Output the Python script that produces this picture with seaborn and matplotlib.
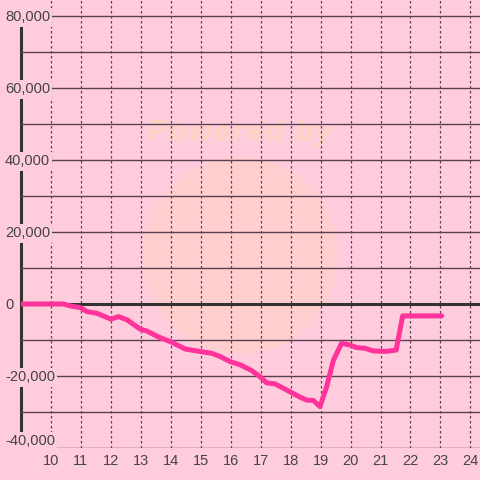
import matplotlib
matplotlib.use("Agg")
import matplotlib.pyplot as plt
import seaborn as sns
import pandas as pd
from matplotlib.patches import Circle

# data
hours = [9.0, 10.42, 10.65, 10.98, 11.2, 11.54, 12.0, 12.25, 12.54, 12.98, 13.2,
         13.6, 14.0, 14.48, 14.98, 15.37, 15.65, 15.98, 16.32, 16.7, 16.98, 17.2,
         17.48, 17.87, 18.32, 18.54, 18.76, 18.98, 19.2, 19.43, 19.7, 19.98, 20.2,
         20.48, 20.76, 21.2, 21.52, 21.74, 23.04]
balance = [0, 0, -550, -1000, -2100, -2600, -4200, -3500, -4400, -7000, -7500,
           -9200, -10500, -12500, -13200, -13700, -14600, -16000, -16900, -18500,
           -20200, -21900, -22200, -23900, -25900, -26700, -26800, -28500, -23000,
           -15600, -10900, -11400, -12100, -12300, -13050, -13150, -12800, -3300,
           -3300]
y_ticks = list(range(-40000, 80001, 10000))
y_labels = ["-40,000", "", "-20,000", "", "0", "", "20,000", "", "40,000", "",
            "60,000", "", "80,000"]
x_ticks = list(range(10, 25))

bg = "#ffccdd"
grid_col = "#5a4050"
text_col = "#444444"

sns.set_theme(style="white", rc={"figure.facecolor": bg, "axes.facecolor": bg})
plt.rcParams['font.family'] = ['Liberation Sans', 'DejaVu Sans']

df = pd.DataFrame({"hour": hours, "balance": balance})

fig = plt.figure(figsize=(4.8, 4.8), dpi=100)
ax = fig.add_axes([21 / 480, 32 / 480, 459 / 480, 448 / 480])
ax.set_zorder(1)

# faint watermark behind the grid
fig.patches.append(Circle((0.5, 0.467), 0.204, transform=fig.transFigure,
                          facecolor="#ffd0c4", edgecolor="none", alpha=0.6, zorder=-1))
fig.text(0.5, 1 - 133 / 480, "Powered by", ha="center", va="center",
         fontsize=20, fontweight="bold", fontstyle="italic",
         color="#fdd3c6", family="DejaVu Sans", zorder=-1)

sns.lineplot(data=df, x="hour", y="balance", ax=ax, color="#ff3399",
             linewidth=3.6, zorder=4)
ax.axhline(0, color="#333333", linewidth=2.2, zorder=3.5)

ax.set_xlim(9, 24.32)
ax.set_ylim(-40000, 84444)
ax.set_xticks(x_ticks)
ax.set_xticklabels([str(t) for t in x_ticks])
ax.set_yticks(y_ticks)
ax.set_yticklabels(y_labels, ha="left")
ax.set_xlabel("")
ax.set_ylabel("")
ax.patch.set_alpha(0)

ax.xaxis.grid(True, color=grid_col, linestyle=(0, (2, 2)), linewidth=0.9)
ax.yaxis.grid(True, color=grid_col, linestyle="-", linewidth=1.0)
ax.xaxis.set_zorder(0.5)
ax.yaxis.set_zorder(3)

ax.tick_params(axis="y", length=0, pad=11.5, labelsize=10.5, labelcolor=text_col)
ax.tick_params(axis="x", length=0, pad=4, labelsize=10.5, labelcolor=text_col)
ylabs = ax.get_yticklabels()
for lab in ylabs:
    lab.set_bbox(dict(facecolor=bg, edgecolor="none", pad=1.5))
ylabs[0].set_va("bottom")

for s in ["top", "right", "bottom"]:
    ax.spines[s].set_visible(False)
ax.spines["left"].set_color("#333333")
ax.spines["left"].set_linewidth(2.2)
ax.spines["left"].set_bounds(-40000, 80000)
ax.spines["left"].set_zorder(2.5)

fig.savefig("out.png", dpi=100, facecolor=bg)
